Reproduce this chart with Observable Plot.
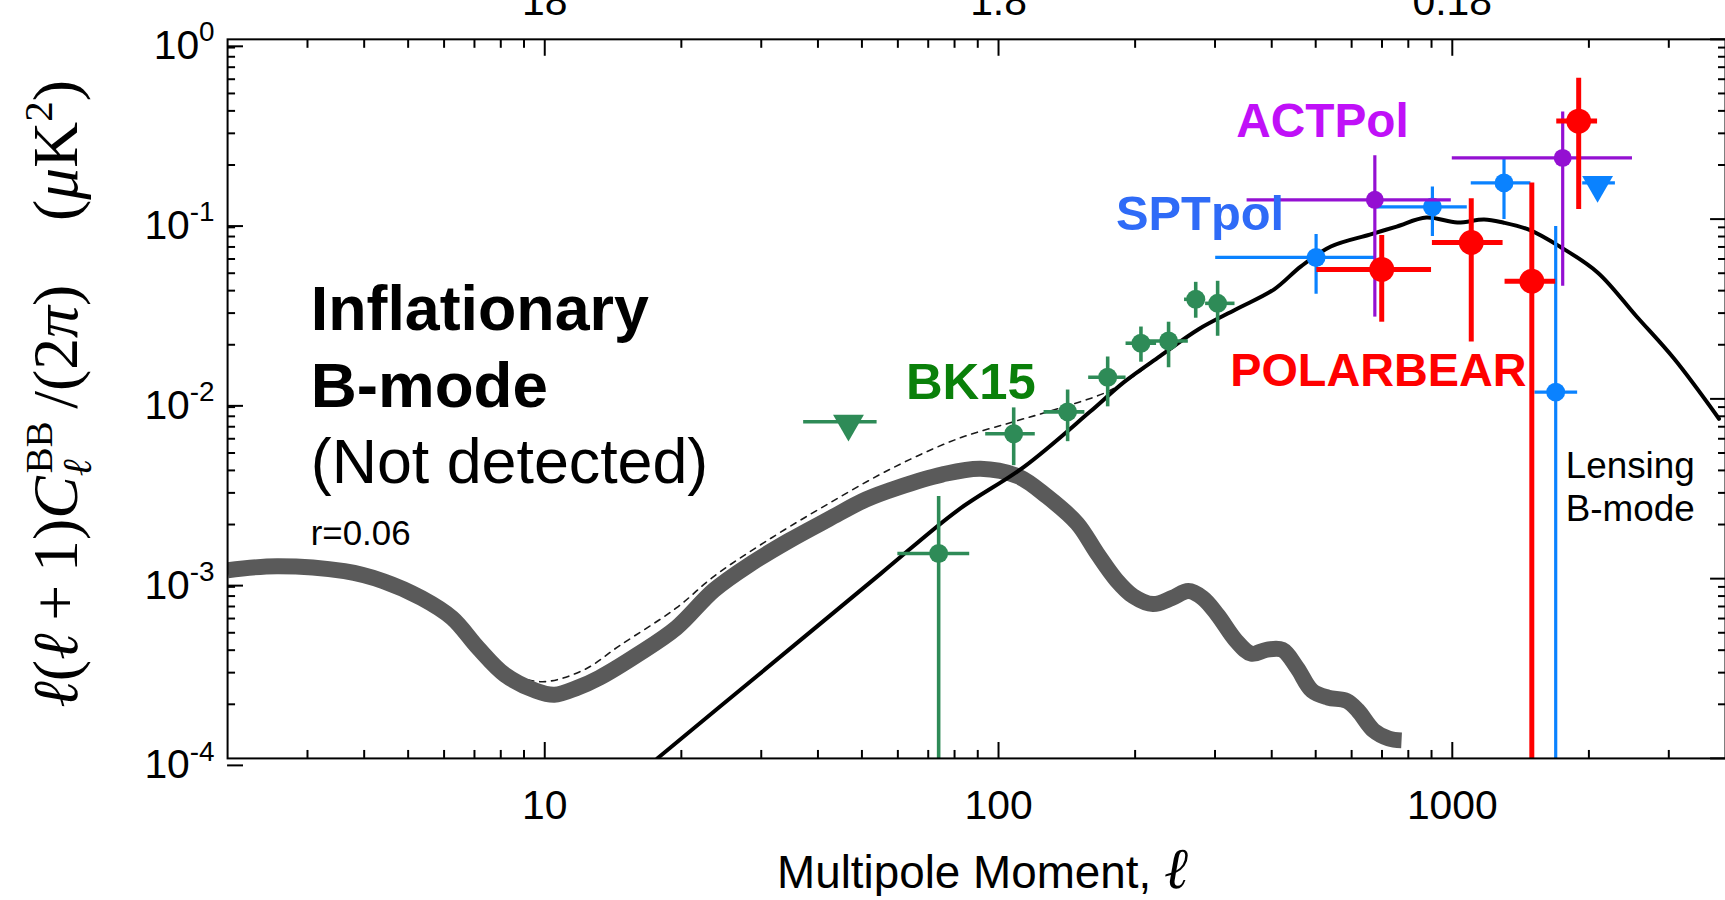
<!DOCTYPE html>
<html>
<head>
<meta charset="utf-8">
<script src="https://cdn.jsdelivr.net/npm/d3@7"></script>
<script src="https://cdn.jsdelivr.net/npm/@observablehq/plot@0.6"></script>
<style>
html, body { margin: 0; padding: 0; background: #fff; overflow: hidden; width: 1725px; height: 900px; }
#chart svg { display: block; }
</style>
</head>
<body>
<div id="chart"></div>
<script>
// ---------------- DATA ----------------
// Primordial (tensor, r = 0.06) B-mode spectrum
const tensorEll = [2, 2.57, 3.62, 4.41, 5.35, 6.25, 7.13, 8.17, 9.56, 10.5, 11.8, 13.2, 16.0, 19.5, 23.6, 28.6, 34.6, 42.2, 51.1, 60.0, 75.0, 91.3, 110.6, 128, 149, 165, 182, 198, 219, 241, 262, 282, 304, 334, 361, 389, 422, 455, 491, 532, 585, 619, 671, 724, 773];
const tensorVal = [1.114e-3, 1.173e-3, 1.10e-3, 9.68e-4, 7.80e-4, 6.04e-4, 4.12e-4, 2.92e-4, 2.38e-4, 2.26e-4, 2.47e-4, 2.81e-4, 3.77e-4, 5.32e-4, 8.63e-4, 1.22e-3, 1.63e-3, 2.14e-3, 2.76e-3, 3.21e-3, 3.79e-3, 4.09e-3, 3.70e-3, 2.86e-3, 2.03e-3, 1.38e-3, 9.81e-4, 8.00e-4, 7.22e-4, 7.80e-4, 8.53e-4, 7.80e-4, 6.28e-4, 4.51e-4, 3.82e-4, 4.02e-4, 4.02e-4, 3.19e-4, 2.38e-4, 2.18e-4, 2.09e-4, 1.85e-4, 1.43e-4, 1.29e-4, 1.26e-4];

// Lensing B-mode spectrum
const lensEll = [17.7, 29.6, 55.1, 81.3, 114, 159, 189, 227, 276, 334, 405, 464, 540, 658, 754, 877, 1026, 1175, 1294, 1475, 1725, 2090, 2545, 3083, 3870];
const lensVal = [1.0e-4, 2.92e-4, 1.07e-3, 2.40e-3, 4.20e-3, 8.47e-3, 1.24e-2, 1.73e-2, 2.44e-2, 3.15e-2, 4.07e-2, 5.46e-2, 7.04e-2, 8.20e-2, 9.09e-2, 0.102, 0.0957, 0.0994, 0.0957, 0.0874, 0.0704, 0.0505, 0.0288, 0.0167, 7.75e-3];

// Total (lensing + r = 0.06), dashed
const totalEll = [8.17, 9.90, 12.2, 14.6, 19.5, 23.6, 30.7, 41.5, 58.0, 81.3, 108, 135, 173, 197, 227];
const totalVal = [2.99e-4, 2.67e-4, 3.11e-4, 4.23e-4, 6.87e-4, 1.03e-3, 1.61e-3, 2.55e-3, 4.09e-3, 6.00e-3, 7.46e-3, 8.81e-3, 1.09e-2, 1.32e-2, 1.73e-2];

// Band powers: [ell, ellLow, ellHigh, value, errLow, errHigh]  (errLow 1e-5 = runs off the bottom)
const bk15 = [
  [73.8, 60.0, 86.4, 1.38e-3, 1e-5, 2.86e-3],
  [108, 93.7, 120.5, 6.40e-3, 4.25e-3, 8.91e-3],
  [142, 126, 155, 8.47e-3, 5.78e-3, 1.12e-2],
  [174, 158, 191, 1.32e-2, 9.03e-3, 1.71e-2],
  [206, 191, 223, 2.04e-2, 1.60e-2, 2.51e-2],
  [237, 215, 262, 2.10e-2, 1.49e-2, 2.67e-2],
  [272, 257, 286, 3.58e-2, 2.81e-2, 4.45e-2],
  [304, 286, 332, 3.40e-2, 2.23e-2, 4.51e-2]
];
const bk15Limit = [[46.7, 37.2, 54.0, 7.46e-3]];

const sptpol = [
  [501, 301, 675, 6.12e-2, 3.82e-2, 8.20e-2],
  [904, 675, 1079, 0.117, 0.080, 0.151],
  [1300, 1101, 1490, 0.159, 0.0994, 0.216],
  [1690, 1521, 1889, 1.09e-2, 1e-5, 9.09e-2]
];
const sptpolLimit = [[2090, 1938, 2288, 0.159]];

const actpol = [
  [675, 353, 995, 0.128, 0.0285, 0.225],
  [1751, 1000, 2495, 0.219, 0.0423, 0.394]
];

const polarbear = [
  [699, 503, 900, 0.0525, 0.0267, 0.0810],
  [1101, 904, 1294, 0.0741, 0.0207, 0.130],
  [1497, 1307, 1690, 0.0451, 1e-5, 0.159],
  [1899, 1699, 2090, 0.351, 0.113, 0.608]
];

// Annotations (data coordinates: ell, value at text baseline)
const annoLabels = ["Inflationary", "B-mode", "(Not detected)", "r=0.06", "BK15", "SPTpol", "ACTPol", "POLARBEAR", "Lensing", "B-mode"];
const annoEll = [3.05, 3.05, 3.05, 3.05, 62.5, 181.5, 334, 324, 1778, 1778];
const annoVal = [0.0241, 0.0090, 0.00340, 0.00153, 0.01, 0.0874, 0.286, 0.0118, 0.00365, 0.00208];

// Ticks
const xMajorTicks = [10, 100, 1000];
const xMinorTicks = [3, 4, 5, 6, 7, 8, 9, 20, 30, 40, 50, 60, 70, 80, 90, 200, 300, 400, 500, 600, 700, 800, 900, 2000, 3000];
const topTickLabels = ["18", "1.8", "0.18"];           // angular scale (degrees) = 180 / ell
const yMajorTicks = [1e-4, 1e-3, 1e-2, 1e-1, 1];
const yMinorTicks = [2e-4, 3e-4, 4e-4, 5e-4, 6e-4, 7e-4, 8e-4, 9e-4,
                     2e-3, 3e-3, 4e-3, 5e-3, 6e-3, 7e-3, 8e-3, 9e-3,
                     2e-2, 3e-2, 4e-2, 5e-2, 6e-2, 7e-2, 8e-2, 9e-2,
                     0.2, 0.3, 0.4, 0.5, 0.6, 0.7, 0.8, 0.9];

const xTitle = "Multipole Moment, ℓ";
const yTitle = "ℓ(ℓ+1)C_ℓ^BB/(2π) (μK^2)";

// ---------------- COLOURS / STYLES ----------------
const C = {
  green: "#2e8b57", greenLabel: "#0a800a",
  blue: "#0a82ff", blueLabel: "#2f6bf7",
  purple: "#9410d2", purpleLabel: "#c010f8",
  red: "#ff0000",
  gray: "#5a5a5a"
};
const sansFont = "'Liberation Sans', Arial, Helvetica, sans-serif";
const serifFont = "'Liberation Serif', 'DejaVu Serif', serif";

const zip = (a, b) => a.map((d, i) => [d, b[i]]);

function bandMarks(rows, color, sw, r) {
  return [
    Plot.ruleY(rows, {y: d => d[3], x1: d => d[1], x2: d => d[2], stroke: color, strokeWidth: sw, clip: true}),
    Plot.ruleX(rows, {x: d => d[0], y1: d => d[4], y2: d => d[5], stroke: color, strokeWidth: sw, clip: true}),
    Plot.dot(rows, {x: d => d[0], y: d => d[3], r, fill: color, stroke: "none"})
  ];
}
function limitMarks(rows, color, sw) {
  return [
    Plot.ruleY(rows, {y: d => d[3], x1: d => d[1], x2: d => d[2], stroke: color, strokeWidth: sw}),
    Plot.dot(rows, {x: d => d[0], y: d => d[3], symbol: "triangle", rotate: 180, r: 11.5, dy: 2, fill: color, stroke: "none"})
  ];
}
const annoStyles = [
  {fontSize: 63, fontWeight: "bold", fill: "#000"},
  {fontSize: 64, fontWeight: "bold", fill: "#000"},
  {fontSize: 63, fontWeight: "normal", fill: "#000"},
  {fontSize: 35, fontWeight: "normal", fill: "#000"},
  {fontSize: 51, fontWeight: "bold", fill: C.greenLabel},
  {fontSize: 49, fontWeight: "bold", fill: C.blueLabel},
  {fontSize: 48, fontWeight: "bold", fill: C.purpleLabel},
  {fontSize: 47, fontWeight: "bold", fill: C.red},
  {fontSize: 37, fontWeight: "normal", fill: "#000"},
  {fontSize: 37, fontWeight: "normal", fill: "#000"}
];
const annoMarks = annoLabels.map((label, i) =>
  Plot.text([i], {x: j => annoEll[j], y: j => annoVal[j], text: j => annoLabels[j],
    textAnchor: "start", lineAnchor: "bottom", ...annoStyles[i]}));

const tickStroke = 2;
const axisFont = 41;

const chart = Plot.plot({
  width: 1732, height: 900,
  marginLeft: 228, marginRight: 0, marginTop: 39, marginBottom: 139,
  x: {type: "log", domain: [2, 4000]},
  y: {type: "log", domain: [1e-4, 1]},
  style: {fontFamily: sansFont, background: "#fff", color: "#000"},
  marks: [
    // theory curves
    Plot.line(zip(totalEll, totalVal), {x: d => d[0], y: d => d[1], stroke: "#1a1a1a", strokeWidth: 1.6, strokeDasharray: "6,6", curve: "catmull-rom"}),
    Plot.line(zip(tensorEll, tensorVal), {x: d => d[0], y: d => d[1], stroke: C.gray, strokeWidth: 16, strokeLinecap: "butt", curve: "catmull-rom", clip: true}),
    Plot.line(zip(lensEll, lensVal), {x: d => d[0], y: d => d[1], stroke: "#000", strokeWidth: 4, curve: "catmull-rom", clip: true}),
    // data
    ...bandMarks(bk15, C.green, 3.6, 9.5),
    ...limitMarks(bk15Limit, C.green, 3.6),
    ...bandMarks(sptpol, C.blue, 3.2, 9.5),
    ...limitMarks(sptpolLimit, C.blue, 3.2),
    ...bandMarks(actpol, C.purple, 3.2, 9),
    ...bandMarks(polarbear, C.red, 5, 12.5),
    // frame & axes (inward ticks)
    Plot.frame({stroke: "#000", strokeWidth: 2}),
    Plot.axisX(xMajorTicks, {anchor: "bottom", tickSize: -16, tickPadding: 48, strokeWidth: tickStroke, fontSize: axisFont, tickFormat: d => String(d), label: null}),
    Plot.axisX(xMinorTicks, {anchor: "bottom", tickSize: -8, strokeWidth: tickStroke, tickFormat: () => "", label: null}),
    Plot.axisX(xMajorTicks, {anchor: "top", tickSize: -16, tickPadding: 40, strokeWidth: tickStroke, fontSize: axisFont, tickFormat: d => topTickLabels[xMajorTicks.indexOf(d)], label: null}),
    Plot.axisX(xMinorTicks, {anchor: "top", tickSize: -8, strokeWidth: tickStroke, tickFormat: () => "", label: null}),
    Plot.axisY(yMajorTicks, {anchor: "left", tickSize: -16, tickPadding: 29, dy: 7, strokeWidth: tickStroke, fontSize: axisFont, tickFormat: d => "10^" + Math.round(Math.log10(d)), label: null}),
    Plot.axisY(yMinorTicks, {anchor: "left", tickSize: -8, strokeWidth: tickStroke, tickFormat: () => "", label: null}),
    Plot.axisY(yMajorTicks, {anchor: "right", tickSize: -16, strokeWidth: tickStroke, tickFormat: () => "", label: null}),
    Plot.axisY(yMinorTicks, {anchor: "right", tickSize: -8, strokeWidth: tickStroke, tickFormat: () => "", label: null}),
    // titles
    Plot.text([xTitle], {x: () => 92.2, frameAnchor: "bottom", dy: 130, lineAnchor: "bottom", textAnchor: "middle", text: d => d, fontSize: 46, fill: "#000"}),
    Plot.text([yTitle], {frameAnchor: "left", dx: -172, dy: -5, rotate: -90, textAnchor: "middle", lineAnchor: "middle", text: d => d, fontSize: 64, fontFamily: serifFont, fill: "#000"}),
    // annotations
    ...annoMarks
  ]
});

// ---------- rich text (superscripts / subscripts), still real text ----------
const svg = d3.select(chart.tagName.toLowerCase() === "svg" ? chart : chart.querySelector("svg"));
svg.selectAll("text").each(function () {
  const t = this.textContent;
  const m = /^10\^(-?\d+)$/.exec(t);
  const sel = d3.select(this);
  if (m) {
    this.textContent = "";
    sel.append("tspan").text("10");
    sel.append("tspan").attr("dy", -18).attr("font-size", 28).text(m[1]);
  } else if (t === xTitle) {
    this.textContent = "";
    sel.append("tspan").text("Multipole Moment, ");
    sel.append("tspan").attr("font-family", serifFont).attr("font-style", "italic").attr("font-size", 58).text("ℓ");
  } else if (t === yTitle) {
    this.textContent = "";
    const add = (txt, attrs = {}) => { const s = sel.append("tspan").text(txt); Object.entries(attrs).forEach(([k, v]) => s.attr(k, v)); return s; };
    add("ℓ", {"font-style": "italic"});
    add("(");
    add("ℓ", {"font-style": "italic"});
    add("\u2009+\u20091)");
    add("C", {"font-style": "italic"});
    add("ℓ", {"font-style": "italic", "font-size": 41, dy: 14});
    add("BB", {"font-size": 39, dy: -39, dx: -14});
    add("\u2009/(2", {dy: 25});
    add("π", {"font-style": "italic"});
    add(")\u2003(");
    add("μ", {"font-style": "italic"});
    add("K");
    add("2", {"font-size": 41, dy: -25});
    add(")", {dy: 25});
  }
});

document.getElementById("chart").appendChild(chart);
</script>
</body>
</html>
